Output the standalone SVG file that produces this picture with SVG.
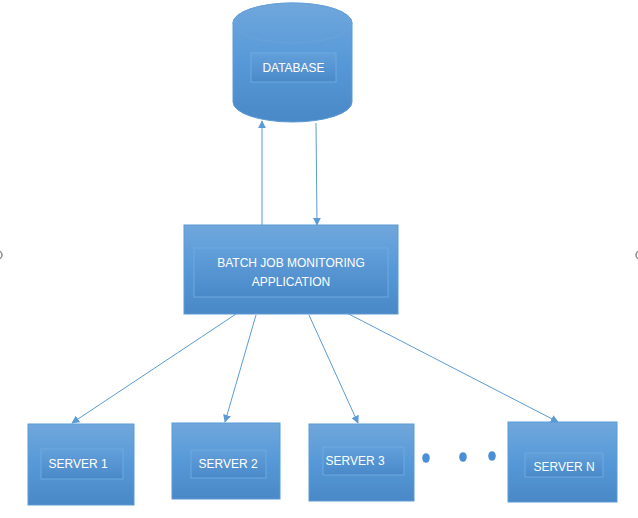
<svg xmlns="http://www.w3.org/2000/svg" width="638" height="518" viewBox="0 0 638 518">
<style>
.box{fill:url(#g);stroke:#5b9bd5;stroke-width:1}
.inner{fill:url(#gi);stroke:#6fa9de;stroke-width:1}
.t{font-family:"Liberation Sans",Arial,sans-serif;font-size:12px;fill:#ffffff;text-anchor:middle}
.c{stroke:#5b9bd5;stroke-width:1;fill:none;marker-end:url(#ah)}
.dot{fill:#4a8fd6}
</style>
<defs>
<linearGradient id="g" x1="0" y1="0" x2="0" y2="1">
<stop offset="0" stop-color="#70a7dc"/>
<stop offset="0.5" stop-color="#5699d8"/>
<stop offset="1" stop-color="#4a88c7"/>
</linearGradient>
<linearGradient id="gi" x1="0" y1="0" x2="0" y2="1">
<stop offset="0" stop-color="#62a0db"/>
<stop offset="1" stop-color="#4a89c9"/>
</linearGradient>
<marker id="ah" viewBox="0 0 10 10" refX="9" refY="5" markerWidth="8" markerHeight="8" markerUnits="userSpaceOnUse" orient="auto">
<path d="M0,0 L10,5 L0,10 z" fill="#5b9bd5"/>
</marker>
</defs>
<g id="connectors">
<line class="c" x1="262" y1="225" x2="262" y2="121"/>
<line class="c" x1="316" y1="123" x2="317" y2="225"/>
<line class="c" x1="236" y1="314" x2="72" y2="423"/>
<line class="c" x1="256" y1="315" x2="225" y2="422"/>
<line class="c" x1="309" y1="315" x2="358" y2="423"/>
<line class="c" x1="341" y1="310" x2="558" y2="422"/>
</g>
<g id="database">
<path class="box" d="M233,23 A59.5,20 0 0 1 352,23 L352,102 A59.5,20 0 0 1 233,102 Z"/>
<ellipse cx="292.5" cy="23" rx="59.5" ry="20" fill="none" stroke="#6aa3da" stroke-width="1"/>
<rect class="inner" x="251" y="53" width="85" height="29"/>
<text class="t" x="293.5" y="72">DATABASE</text>
</g>
<g id="app">
<rect class="box" x="184" y="225" width="214" height="89"/>
<rect class="inner" x="194" y="248" width="194" height="49"/>
<text class="t" x="291" y="267">BATCH JOB MONITORING</text>
<text class="t" x="291" y="286">APPLICATION</text>
</g>
<g id="server1">
<rect class="box" x="28" y="424" width="106" height="81"/>
<rect class="inner" x="41" y="449" width="82" height="30"/>
<text class="t" x="78" y="468">SERVER 1</text>
</g>
<g id="server2">
<rect class="box" x="172" y="423" width="108" height="76"/>
<rect class="inner" x="191" y="450" width="75" height="28"/>
<text class="t" x="228" y="468">SERVER 2</text>
</g>
<g id="server3">
<rect class="box" x="309" y="424" width="105" height="77"/>
<rect class="inner" x="323" y="447" width="81" height="28"/>
<text class="t" x="355" y="465">SERVER 3</text>
</g>
<g id="serverN">
<rect class="box" x="508" y="422" width="109" height="80"/>
<rect class="inner" x="525" y="453" width="78" height="24"/>
<text class="t" x="564" y="471">SERVER N</text>
</g>
<g id="dots">
<ellipse class="dot" cx="426" cy="458" rx="3.8" ry="4.8"/>
<ellipse class="dot" cx="463" cy="457" rx="3.8" ry="4.8"/>
<ellipse class="dot" cx="492" cy="456" rx="3.8" ry="4.8"/>
</g>
<g id="handles" fill="none" stroke="#8a8a8a" stroke-width="1.5">
<circle cx="-2" cy="255" r="4"/>
<circle cx="640" cy="255" r="4"/>
</g>
</svg>
